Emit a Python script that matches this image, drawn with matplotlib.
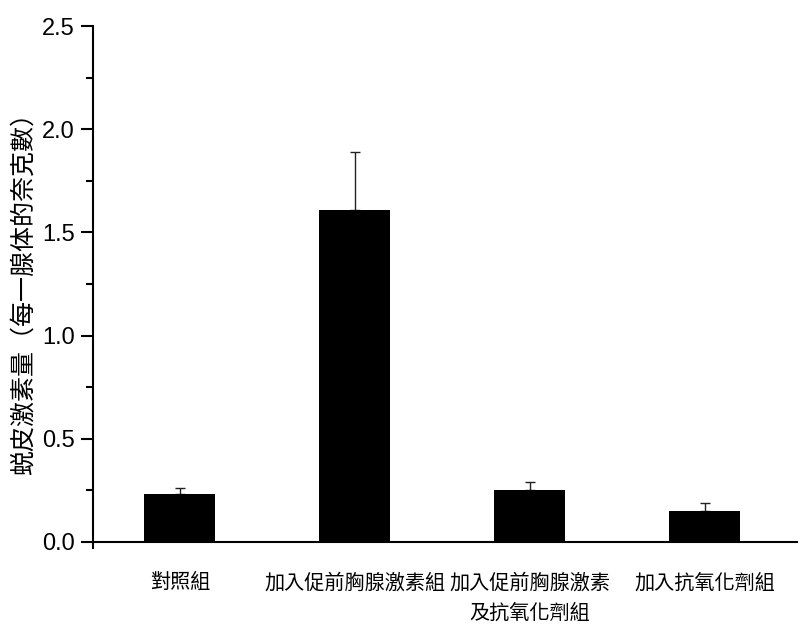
import matplotlib.pyplot as plt
from matplotlib.ticker import MultipleLocator

# data
groups = ["對照組", "加入促前胸腺激素組", "加入促前胸腺激素\n及抗氧化劑組", "加入抗氧化劑組"]
values = [0.23, 1.61, 0.25, 0.15]
errors = [0.03, 0.28, 0.04, 0.04]

plt.rcParams['font.family'] = ['Noto Sans CJK TC', 'DejaVu Sans']

fig = plt.figure(figsize=(8, 6.3), dpi=100)
ax = fig.add_axes([0.116, 0.130, 0.880, 0.8286])

x = list(range(len(groups)))
ax.bar(x, values, width=0.405, color="black", zorder=2)
ax.errorbar(x, values, yerr=[[0] * len(errors), errors], fmt="none",
            ecolor="#222222", elinewidth=1, capsize=3.5, capthick=1, zorder=1)

ax.set_xlim(-0.497, 3.526)
ax.set_ylim(-0.03, 2.5)
ax.spines['top'].set_visible(False)
ax.spines['right'].set_visible(False)
ax.spines['bottom'].set_position(('data', 0))
for s in ('left', 'bottom'):
    ax.spines[s].set_linewidth(1.5)

ax.yaxis.set_major_locator(MultipleLocator(0.5))
ax.yaxis.set_minor_locator(MultipleLocator(0.25))
ax.tick_params(axis='y', which='major', length=9, width=1.5, direction='out', pad=4)
ax.tick_params(axis='y', which='minor', length=5, width=1.5, direction='out')
ax.set_yticks([0, 0.5, 1.0, 1.5, 2.0, 2.5])
ax.set_yticklabels(["0.0", "0.5", "1.0", "1.5", "2.0", "2.5"],
                   family="Liberation Sans", fontsize=17)

ax.set_xticks(x)
ax.set_xticklabels(groups, fontsize=14.5, linespacing=1.6, va='top')
ax.tick_params(axis='x', length=0, pad=22)

ax.set_ylabel("蜕皮激素量（每一腺体的奈克數）", fontsize=18, labelpad=4)

fig.savefig("out.png", dpi=100)
